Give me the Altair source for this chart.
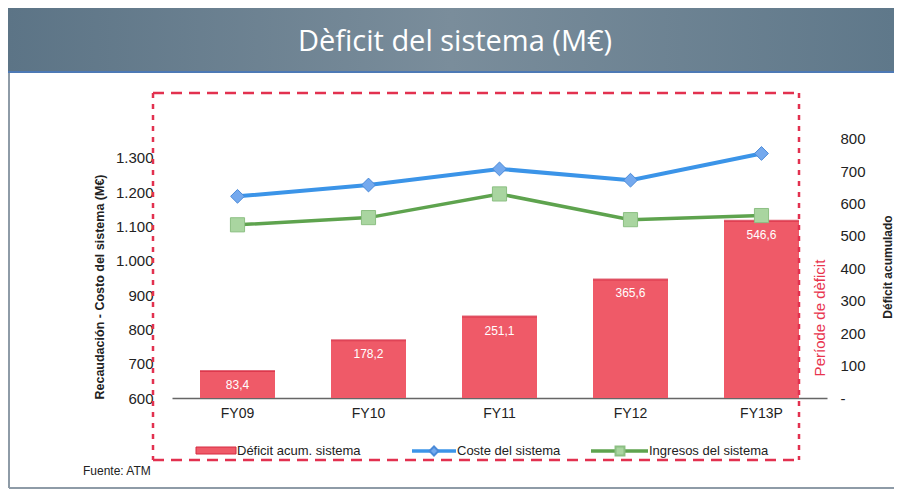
import altair as alt
import pandas as pd

# ---------------- data ----------------
years = ["FY09", "FY10", "FY11", "FY12", "FY13P"]
deficit = [83.4, 178.2, 251.1, 365.6, 546.6]
deficit_labels = ["83,4", "178,2", "251,1", "365,6", "546,6"]
coste = [1188, 1221, 1268, 1235, 1313]
ingresos = [1105, 1126, 1195, 1120, 1132]
series_names = ["Déficit acum. sistema", "Coste del sistema", "Ingresos del sistema"]
left_ticks = [600, 700, 800, 900, 1000, 1100, 1200, 1300]
right_ticks = [0, 100, 200, 300, 400, 500, 600, 700, 800]

title_text = "Dèficit del sistema (M€)"
left_title = "Recaudación - Costo del sistema (M€)"
right_title = "Déficit acumulado"
period_text = "Període de dèficit"
source_text = "Fuente: ATM"

# ---------------- layout ----------------
W, H = 655, 261
PL, PT = 164, 129
CW, CH = 886, 481

FONT = "Liberation Sans"
RED = "#ef5a68"
RED_DARK = "#d62a40"
DASH_RED = "#e2314f"
BLUE = "#3b94e8"
BLUE_FILL = "#74a9ee"
GREEN = "#5ea34e"
GREEN_FILL = "#a9d5a0"

df = pd.DataFrame({"year": years, "deficit": deficit, "label": deficit_labels,
                   "coste": coste, "ingresos": ingresos})

xenc = alt.X("year:N", sort=years,
             scale=alt.Scale(paddingInner=0, paddingOuter=0),
             axis=alt.Axis(title=None, labelAngle=0, ticks=False, domainColor="#666",
                           domainWidth=1.5, labelFontSize=14, labelColor="#222",
                           labelFont=FONT, labelPadding=8, grid=False))

yR_scale = alt.Scale(domain=[0, 805], nice=False, zero=True)
yR_axis = alt.Axis(orient="right", values=right_ticks, title=None, ticks=False,
                   domain=False, grid=False, labelPadding=13, labelFontSize=15,
                   labelColor="#222", labelFont=FONT, labelOverlap=False,
                   labelExpr="datum.value == 0 ? '-' : datum.label")
yR = alt.Y("deficit:Q", scale=yR_scale, axis=yR_axis)

base = alt.Chart(df)
bars = base.mark_bar(size=75, color=RED).encode(x=xenc, y=yR)
bar_tops = base.mark_tick(size=75, thickness=2, color=RED_DARK).encode(x=xenc, y=yR)
bar_labels = base.mark_text(color="white", fontSize=12, font=FONT, baseline="top", dy=9).encode(
    x=xenc, y=yR, text="label:N")
bars_group = alt.layer(bars, bar_tops, bar_labels)

yL_scale = alt.Scale(domain=[600, 1361], nice=False, zero=False)
yL_axis = alt.Axis(orient="left", values=left_ticks, title=None, ticks=False, domain=False,
                   grid=False, labelPadding=19, labelFontSize=15, labelColor="#222",
                   labelFont=FONT, labelOverlap=False,
                   labelExpr="replace(format(datum.value, ','), ',', '.')")


def yl(field):
    return alt.Y(f"{field}:Q", scale=yL_scale, axis=yL_axis)


coste_line = base.mark_line(color=BLUE, strokeWidth=4).encode(x=xenc, y=yl("coste"))
coste_pts = base.mark_point(shape="diamond", filled=True, size=190, fill=BLUE_FILL,
                            stroke="#4a8ad8", strokeWidth=1, opacity=1).encode(
    x=xenc, y=yl("coste"))
ingr_line = base.mark_line(color=GREEN, strokeWidth=3.5).encode(x=xenc, y=yl("ingresos"))
ingr_pts = base.mark_point(shape="square", filled=True, size=200, fill=GREEN_FILL,
                           stroke="#8cbf83", strokeWidth=1, opacity=1).encode(
    x=xenc, y=yl("ingresos"))
lines_group = alt.layer(coste_line, ingr_line, coste_pts, ingr_pts)

# ---------------- decorations ----------------
one = pd.DataFrame({"k": [0]})


def px(v):
    return alt.value(v)


def rule(x, y, x2, y2, **kw):
    return alt.Chart(one).mark_rule(**kw).encode(x=px(x), y=px(y), x2=px(x2), y2=px(y2))


def rect(x, y, x2, y2, **kw):
    return alt.Chart(one).mark_rect(**kw).encode(x=px(x), y=px(y), x2=px(x2), y2=px(y2))


def text(t, x, y, **kw):
    return alt.Chart(one).mark_text(text=t, **kw).encode(x=px(x), y=px(y))


banner_grad = alt.Gradient(gradient="linear", x1=0, x2=1, y1=0, y2=0, stops=[
    alt.GradientStop(color="#5c7486", offset=0),
    alt.GradientStop(color="#7a8d9b", offset=0.5),
    alt.GradientStop(color="#5f788a", offset=1)])

deco = [
    rect(-PL, -PT, CW - PL, -65, color=banner_grad),
    rule(-PL, -65, CW - PL, -65, color="#4d79b5", strokeWidth=2),
    text(title_text, 283, -95, color="white", fontSize=29, font="Open Sans"),
    # frame
    rule(-163, -64, -163, 351, color="#8e9ba7", strokeWidth=2),
    rule(-163, 351, CW - PL, 351, color="#8e9ba7", strokeWidth=2),
    # dashed rectangle
    rule(-19, -44, 627, -44, color=DASH_RED, strokeWidth=2.5, strokeDash=[11, 7]),
    rule(-19, 323, 627, 323, color=DASH_RED, strokeWidth=2.5, strokeDash=[11, 7]),
    rule(-19, -44, -19, 323, color=DASH_RED, strokeWidth=2.5, strokeDash=[5, 6]),
    rule(627, -44, 627, 323, color=DASH_RED, strokeWidth=2.5, strokeDash=[5, 6]),
    # side texts
    text(period_text, 648, 181, angle=270, color="#e8344e", fontSize=15, font=FONT),
    text(left_title, -72, 150, angle=270, color="#222", fontSize=12.5, fontWeight="bold", font=FONT),
    text(right_title, 716, 130, angle=270, color="#222", fontSize=12, fontWeight="bold", font=FONT),
    text(source_text, -89, 334, align="left", color="#222", fontSize=12, font=FONT),
    # legend
    rect(24, 310, 64, 317, color=RED, stroke=RED_DARK, strokeWidth=1),
    text(series_names[0], 65, 314, align="left", color="#222", fontSize=13, font=FONT),
    rule(240, 314, 284, 314, color=BLUE, strokeWidth=3.5),
    alt.Chart(one).mark_point(shape="diamond", filled=True, size=80, fill=BLUE_FILL,
                              stroke="#4a8ad8", opacity=1).encode(x=px(262), y=px(314)),
    text(series_names[1], 285, 314, align="left", color="#222", fontSize=13, font=FONT),
    rule(419, 314, 476, 314, color=GREEN, strokeWidth=3.5),
    alt.Chart(one).mark_point(shape="square", filled=True, size=80, fill=GREEN_FILL,
                              stroke="#8cbf83", opacity=1).encode(x=px(448), y=px(314)),
    text(series_names[2], 477, 314, align="left", color="#222", fontSize=13, font=FONT),
]

chart = alt.layer(bars_group, lines_group, *deco).resolve_scale(y="independent").properties(
    width=W, height=H,
    padding={"left": PL, "top": PT, "right": CW - PL - W, "bottom": CH - PT - H},
    autosize=alt.AutoSizeParams(type="none"),
    background="white",
).configure_view(strokeWidth=0)

chart.save("out.html", embed_options={"renderer": "svg", "actions": False})
